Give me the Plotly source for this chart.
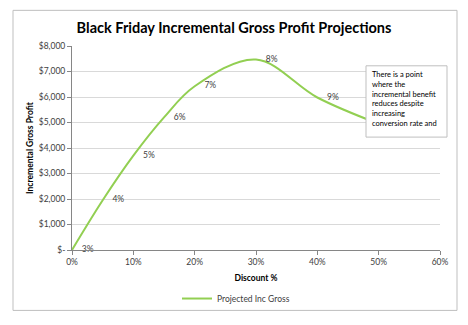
import plotly.graph_objects as go

discount = [0.0, 0.05, 0.10, 0.15, 0.20, 0.30, 0.40, 0.50]
profit = [0, 1950, 3700, 5200, 6420, 7470, 5980, 4950]
point_labels = ["3%", "4%", "5%", "6%", "7%", "8%", "9%", ""]

y_tickvals = [0, 1000, 2000, 3000, 4000, 5000, 6000, 7000, 8000]
y_ticktext = ["$-", "$1,000", "$2,000", "$3,000", "$4,000", "$5,000", "$6,000", "$7,000", "$8,000"]
x_tickvals = [0, 0.1, 0.2, 0.3, 0.4, 0.5, 0.6]
x_ticktext = ["0%", "10%", "20%", "30%", "40%", "50%", "60%"]

title = "Black Friday Incremental Gross Profit Projections"
series_name = "Projected Inc Gross"
note = "There is a point<br>where the<br>incremental benefit<br>reduces despite<br>increasing<br>conversion rate and"

FONT = "Lato"
GREEN = "#92CF52"
TXT = "#404040"

fig = go.Figure()
fig.add_trace(go.Scatter(
    x=discount, y=profit, mode="lines+markers+text", name=series_name,
    text=point_labels, textposition="middle right",
    textfont=dict(family=FONT, size=8.5, color=TXT),
    marker=dict(size=14, color="rgba(0,0,0,0)", line=dict(width=0)),
    line=dict(color=GREEN, width=2, shape="spline", smoothing=1.0),
    cliponaxis=False,
))

W, H = 468, 325
ml, mr, mt, mb = 72, 28, 46, 73
pw = W - ml - mr
ph = H - mt - mb

def px_x(p):
    return (p - ml) / pw

def px_y(p):
    return (H - mb - p) / ph

fig.update_layout(
    width=W, height=H,
    margin=dict(l=ml, r=mr, t=mt, b=mb),
    paper_bgcolor="white", plot_bgcolor="white",
    font=dict(family=FONT, size=8.5, color=TXT),
    title=dict(text="<b>" + title + "</b>", x=0.5, xanchor="center", y=1 - 28 / H, yanchor="middle",
               font=dict(family=FONT, size=14.5, color="#000000")),
    showlegend=True,
    legend=dict(orientation="h", x=px_x(236), xanchor="center", y=px_y(301), yanchor="middle",
                font=dict(family=FONT, size=8.5, color=TXT), itemwidth=30, bgcolor="rgba(0,0,0,0)"),
    xaxis=dict(range=[0, 0.6], tickvals=x_tickvals, ticktext=x_ticktext, showgrid=False,
               showline=True, linecolor="#868686", linewidth=1, ticks="outside", ticklen=4,
               tickcolor="#868686", zeroline=False, tickfont=dict(size=8.5, color=TXT),
               title=dict(text="<b>Discount %</b>", font=dict(size=8.5, color="#000000"), standoff=8)),
    yaxis=dict(range=[0, 8000], tickvals=y_tickvals, ticktext=y_ticktext, showgrid=True,
               gridcolor="#D9D9D9", gridwidth=1, showline=True, linecolor="#868686", linewidth=1,
               ticks="outside", ticklen=4, tickcolor="#868686", zeroline=False,
               tickfont=dict(size=8.5, color=TXT),
               title=dict(text="<b>Incremental Gross Profit</b>", font=dict(size=8.5, color="#000000"), standoff=3)),
)

# outer chart border
fig.add_shape(type="rect", xref="paper", yref="paper",
              x0=px_x(13), x1=px_x(457), y0=px_y(313), y1=px_y(10),
              line=dict(color="#BFBFBF", width=1), fillcolor="rgba(0,0,0,0)", layer="below")
# note text box
fig.add_shape(type="rect", xref="paper", yref="paper",
              x0=px_x(366), x1=px_x(447), y0=px_y(138), y1=px_y(66),
              line=dict(color="#BFBFBF", width=1), fillcolor="white", layer="above")
fig.add_annotation(xref="paper", yref="paper", x=px_x(370), y=px_y(68), xanchor="left", yanchor="top",
                   text=note, showarrow=False, align="left",
                   font=dict(family=FONT, size=7.5, color="#000000"))

fig.write_html("out.html")
